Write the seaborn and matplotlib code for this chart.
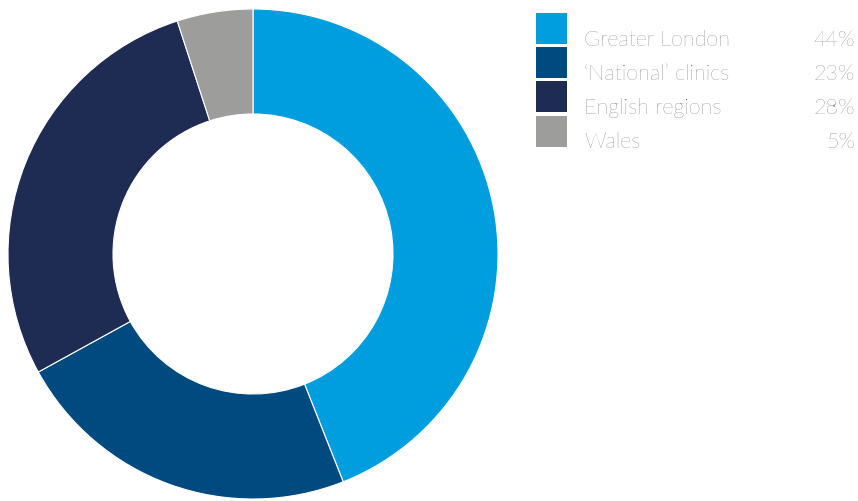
import matplotlib
matplotlib.use("Agg")
import matplotlib.pyplot as plt
from matplotlib.patches import Rectangle
import seaborn as sns

categories = ["Greater London", "\u2018National\u2019 clinics", "English regions", "Wales"]
values = [44, 23, 28, 5]
labels = ["44%", "23%", "28%", "5%"]
colors = ["#009EDE", "#004A80", "#1E2B52", "#9D9D9C"]

sns.set_theme(style="white")
plt.rcParams['font.family'] = ['Lato', 'DejaVu Sans']

W, H = 858, 502
fig = plt.figure(figsize=(W / 100, H / 100), dpi=100)
ax = fig.add_axes([8 / W, 2 / H, 490 / W, 490 / H])
ax.pie(values, colors=colors, startangle=90, counterclock=False,
       wedgeprops=dict(width=105 / 245, edgecolor="white", linewidth=0.8))
ax.set_xlim(-1, 1)
ax.set_ylim(-1, 1)
ax.set_aspect("equal")
ax.axis("off")

tops = [14, 48, 82, 117]
for cat, lab, col, t in zip(categories, labels, colors, tops):
    fig.add_artist(Rectangle((536 / W, 1 - (t + 31) / H), 31 / W, 31 / H,
                             transform=fig.transFigure, facecolor=col, edgecolor="none"))
    yb = 1 - (t + 31.5) / H
    fig.text(584 / W, yb, cat, ha="left", va="baseline", fontsize=15.5,
             fontweight="light", color="#4A4A4A")
    fig.text(855 / W, yb, lab, ha="right", va="baseline", fontsize=15.5,
             fontweight="light", color="#4A4A4A")

fig.savefig("out.png", dpi=100, facecolor="white")
